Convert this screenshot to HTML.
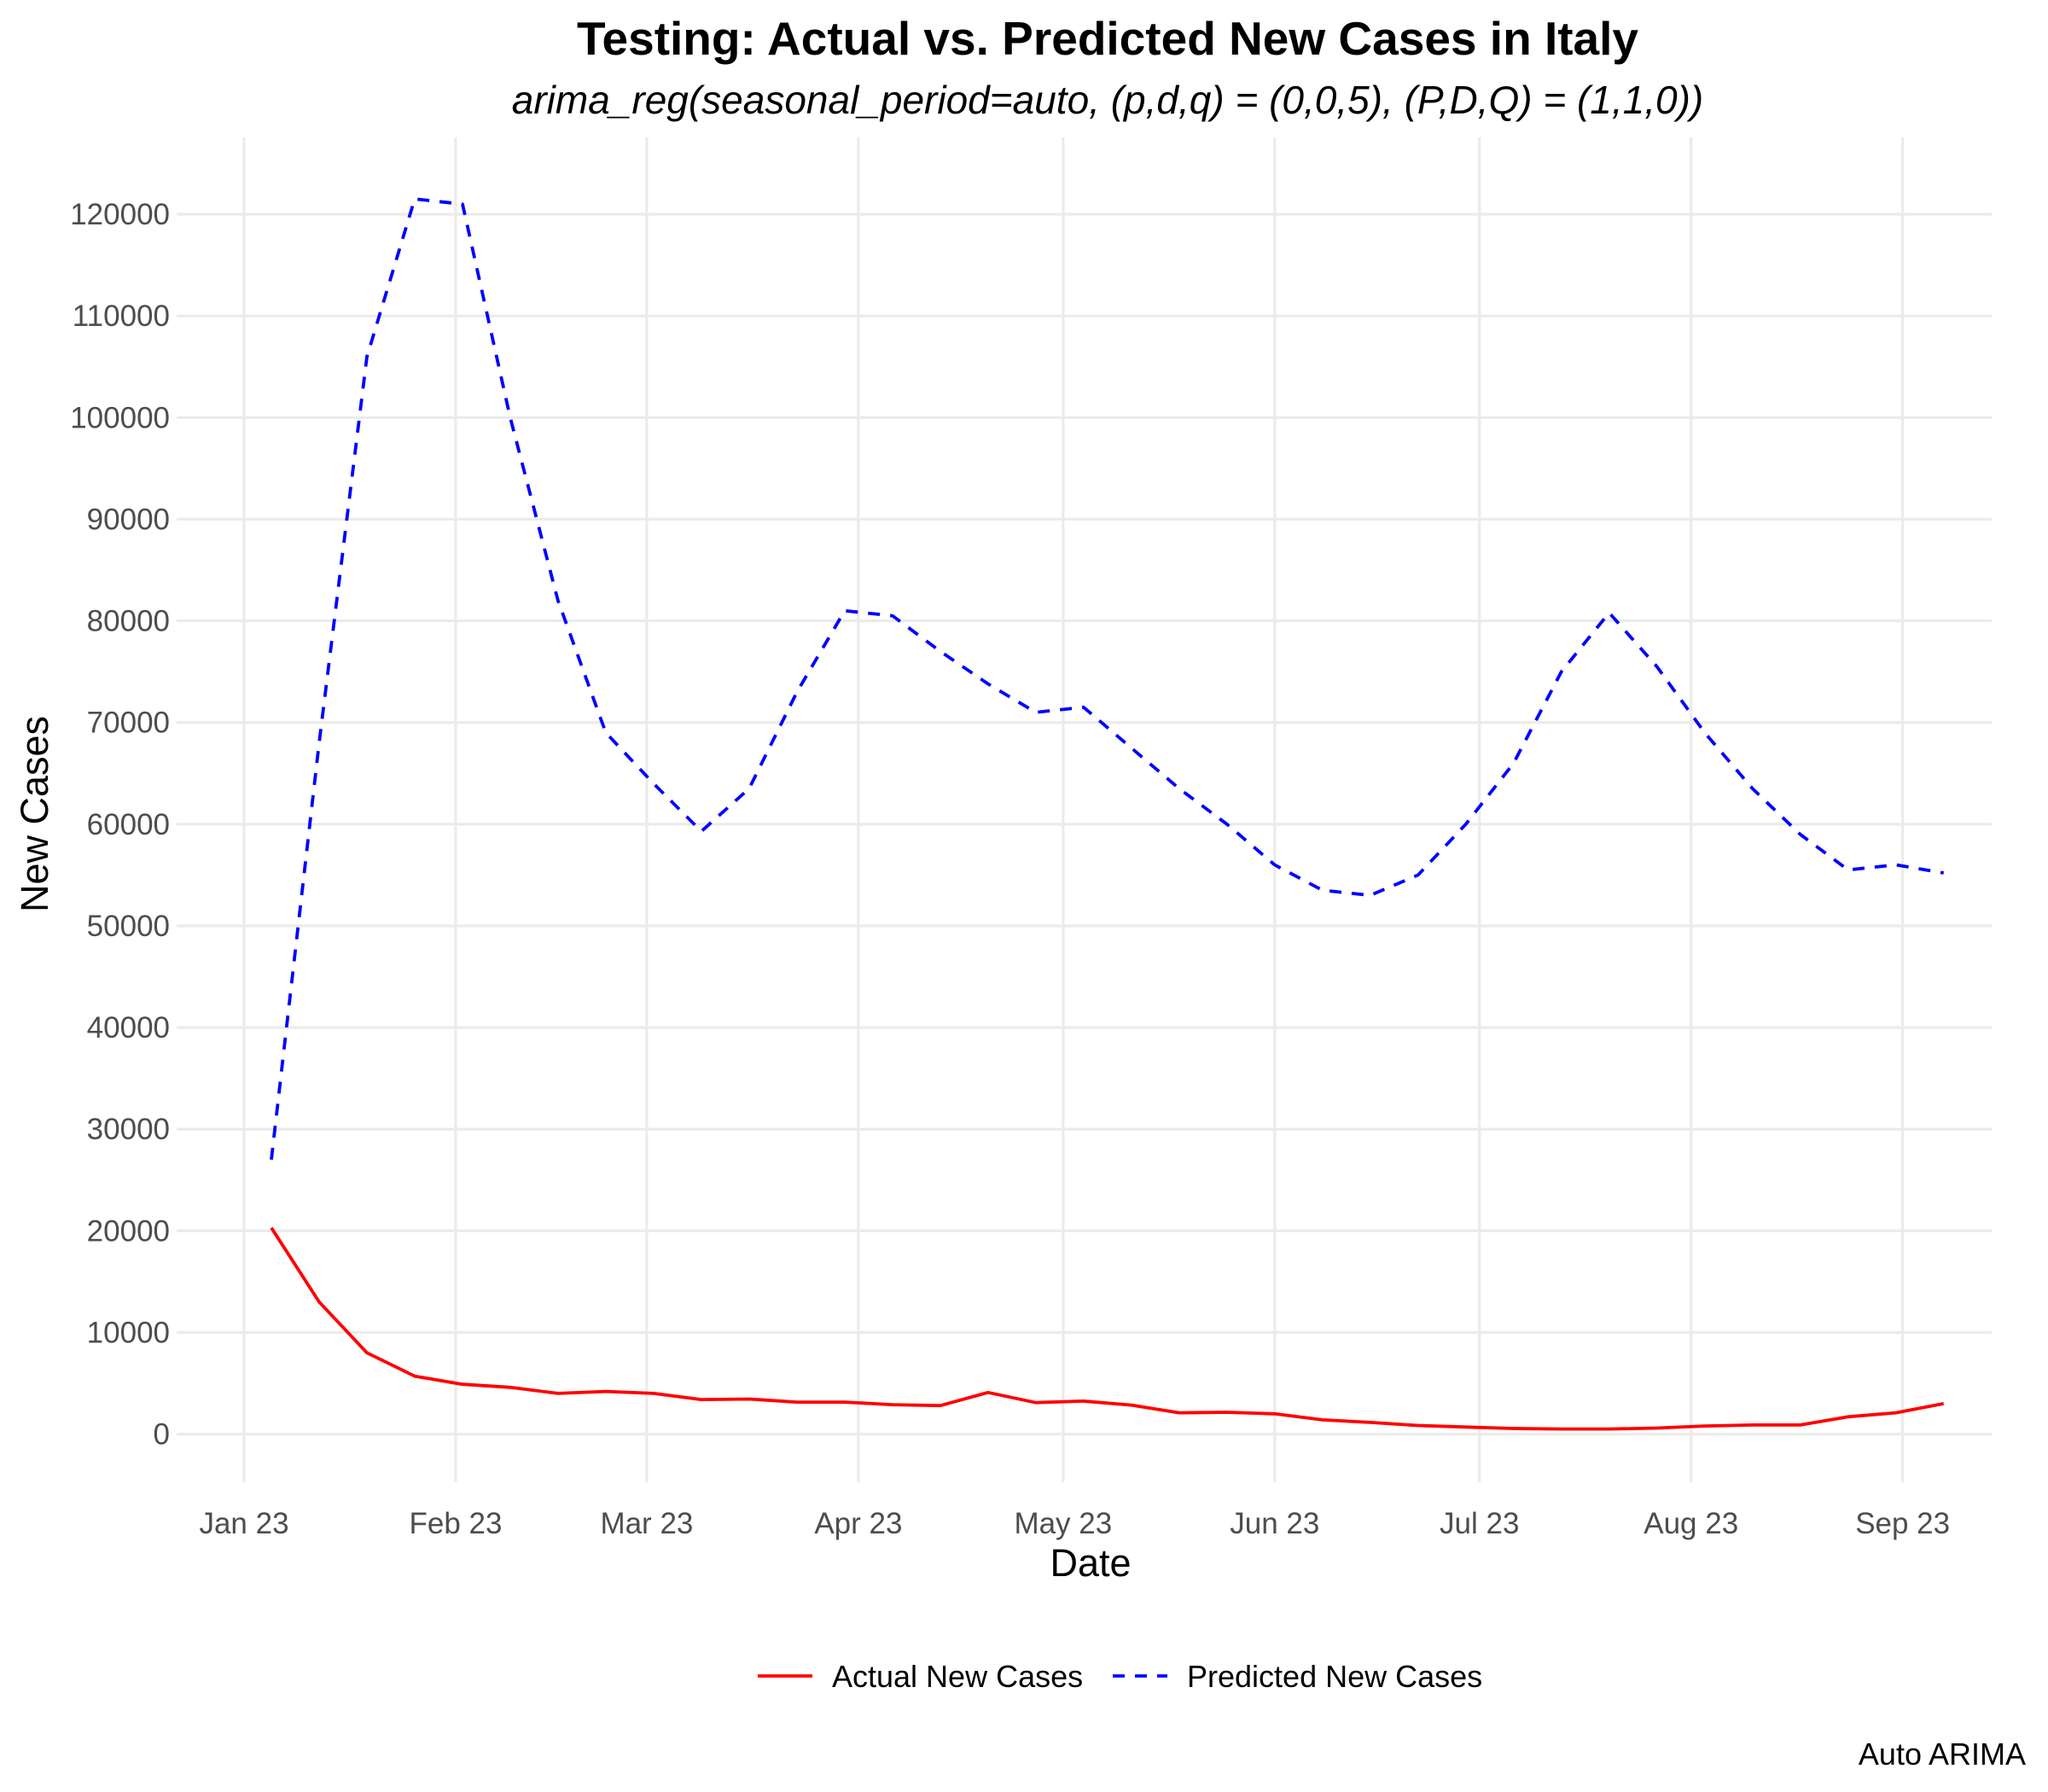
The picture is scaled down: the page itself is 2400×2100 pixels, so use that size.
<!DOCTYPE html>
<html><head><meta charset="utf-8"><style>
html,body{margin:0;padding:0;background:#fff}
svg{display:block;font-family:"Liberation Sans",sans-serif}
</style></head><body>
<svg id="chart" width="2400" height="2100" viewBox="0 0 2400 2100">
<text x="1298" y="64" text-anchor="middle" font-size="55" font-weight="bold">Testing: Actual vs. Predicted New Cases in Italy</text>
<text x="1298" y="133" text-anchor="middle" font-size="46" font-style="italic">arima_reg(seasonal_period=auto, (p,d,q) = (0,0,5), (P,D,Q) = (1,1,0))</text>
<g id="grid"></g>
<g id="yticks"></g>
<g id="xticks"></g>
<g id="series"></g>
<text x="1278" y="1847" text-anchor="middle" font-size="45">Date</text>
<text transform="translate(56,954) rotate(-90)" text-anchor="middle" font-size="45">New Cases</text>
<g>
<g>
<line x1="888" y1="1964" x2="952" y2="1964" stroke="#ff0000" stroke-width="3.8"/>
<text x="975" y="1977" font-size="36" fill="#000">Actual New Cases</text></g>
<g>
<line x1="1304" y1="1964" x2="1368" y2="1964" stroke="#0000ff" stroke-width="3.8" stroke-dasharray="14,12"/>
<text x="1391" y="1977" font-size="36" fill="#000">Predicted New Cases</text></g>
</g>
<text x="2374" y="2068" text-anchor="end" font-size="36">Auto ARIMA</text>
</svg>
<script>
const yTicks=[0,10000,20000,30000,40000,50000,60000,70000,80000,90000,100000,110000,120000];
const monthLabels=["Jan 23","Feb 23","Mar 23","Apr 23","May 23","Jun 23","Jul 23","Aug 23","Sep 23"];
const monthDays=[0,31,59,90,120,151,181,212,243];
const startDay=4;
const actual=[20300,13000,8000,5700,4900,4600,4000,4200,4000,3400,3450,3150,3150,2900,2800,4100,3100,3250,2850,2100,2150,2000,1400,1150,850,700,550,500,500,600,800,900,900,1700,2100,3000];
const predicted=[27000,68000,106000,121500,121000,100000,82000,69000,64000,59300,63500,73000,81000,80500,77000,73800,71000,71500,67500,63500,60000,56000,53500,53000,55000,60000,66000,75000,80800,75500,69000,63500,59000,55500,56000,55200];
const NS="http://www.w3.org/2000/svg";
function X(day){return 286+day*(162*1.5306/31);}
function Y(v){return 1680.6-v*(77.83*1.5306/10000);}
function mk(tag,attrs,parent){const e=document.createElementNS(NS,tag);for(const k in attrs)e.setAttribute(k,attrs[k]);parent.appendChild(e);return e;}
const grid=document.getElementById('grid'),yt=document.getElementById('yticks'),xt=document.getElementById('xticks'),ser=document.getElementById('series');
yTicks.forEach(v=>{
 const l=mk('line',{x1:207,x2:2334,y1:Y(v),y2:Y(v),stroke:'#ebebeb','stroke-width':3.2},grid);
 
 
 const t=mk('text',{x:199,y:Y(v)+12,'text-anchor':'end','font-size':35,fill:'#4d4d4d'},yt);
 t.textContent=v;
 
 
});
monthDays.forEach((d,i)=>{
 const l=mk('line',{x1:X(d),x2:X(d),y1:161,y2:1737,stroke:'#ebebeb','stroke-width':3.2},grid);
 
 
 const t=mk('text',{x:X(d),y:1797,'text-anchor':'middle','font-size':35,fill:'#4d4d4d'},xt);
 t.textContent=monthLabels[i];
 
 
});
function pts(arr){return arr.map((v,i)=>X(startDay+7*i).toFixed(1)+','+Y(v).toFixed(1)).join(' ');}
const pa=mk('polyline',{points:pts(actual),fill:'none',stroke:'#ff0000','stroke-width':3.8,'stroke-linejoin':'round'},ser);


const pp=mk('polyline',{points:pts(predicted),fill:'none',stroke:'#0000ff','stroke-width':3.8,'stroke-dasharray':'14,12','stroke-linejoin':'round'},ser);


</script>
</body></html>
